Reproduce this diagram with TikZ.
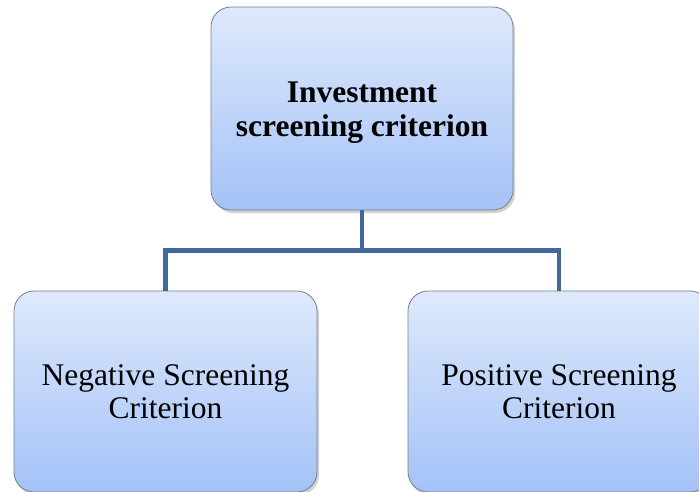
\documentclass[tikz,border=0pt]{standalone}
\usepackage{fontspec}
\setmainfont{Liberation Serif}
\usetikzlibrary{shadows}
\definecolor{boxtop}{HTML}{DEE9FC}
\definecolor{boxbot}{HTML}{A4C2F7}
\definecolor{boxline}{HTML}{7A7F88}
\definecolor{linkc}{HTML}{41689A}
\begin{document}
\begin{tikzpicture}[x=1pt,y=1pt,
  box/.style={draw=boxline, line width=0.8pt, rounded corners=20pt,
    top color=boxtop, bottom color=boxbot, align=center, inner sep=0pt,
    drop shadow={shadow xshift=2pt, shadow yshift=-3pt, opacity=0.3, fill=black!60}},
  boxtext/.style={font=\fontsize{31.5}{33.5}\selectfont},
  boldtext/.style={font=\fontsize{31.5}{34}\selectfont\bfseries},
  link/.style={draw=linkc, line width=4.5pt}]
\useasboundingbox (0,0) rectangle (699,-491);
\node[box, minimum width=302pt, minimum height=203pt,
  label={[boldtext, align=center, yshift=-4pt]center:{Investment\\screening criterion}}] (top) at (362,-108.5) {};
\node[box, boxtext, minimum width=303pt, minimum height=201pt] (left) at (165.5,-391.5) {Negative Screening\\Criterion};
\node[box, boxtext, minimum width=302pt, minimum height=201pt] (right) at (559,-391.5) {Positive Screening\\Criterion};
\draw[link] (top.south) -- ++(0,-40) coordinate (mid) -| (left.north);
\draw[link] (mid) -| (right.north);
\end{tikzpicture}
\end{document}
